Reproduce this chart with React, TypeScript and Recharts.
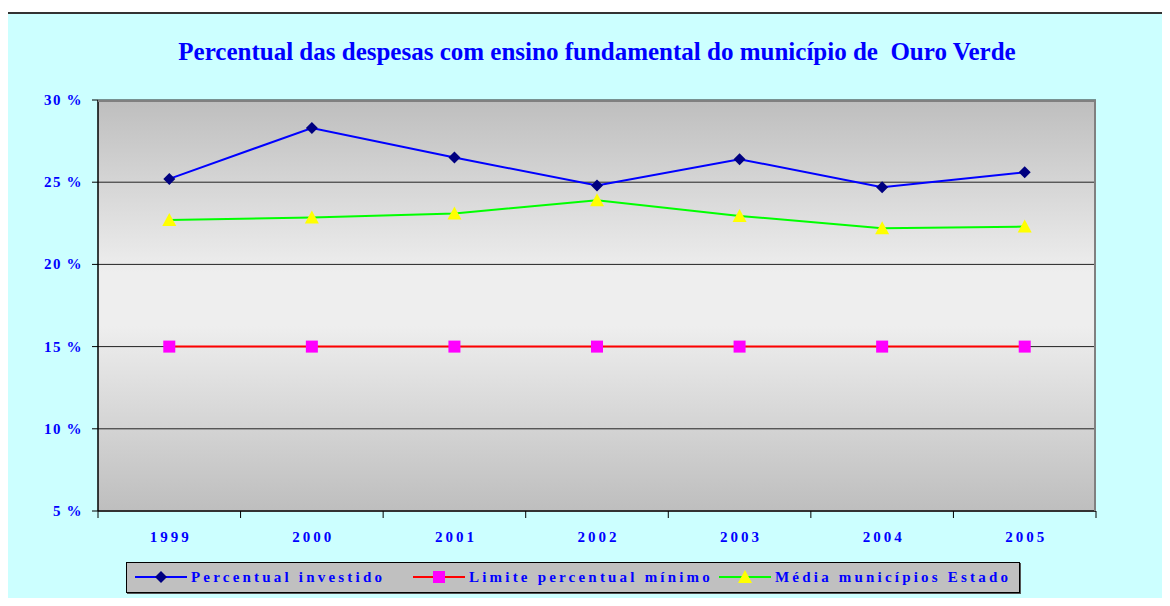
import React from "react";
import { LineChart, Line, XAxis, YAxis, CartesianGrid } from "recharts";

const years = ["1999", "2000", "2001", "2002", "2003", "2004", "2005"];
const investido = [25.2, 28.3, 26.5, 24.8, 26.4, 24.7, 25.6];
const limite = [15, 15, 15, 15, 15, 15, 15];
const mediaEstado = [22.7, 22.85, 23.1, 23.9, 22.95, 22.2, 22.3];
const yTicks = [5, 10, 15, 20, 25, 30];

const data = years.map((year, i) => ({
  year,
  investido: investido[i],
  limite: limite[i],
  media: mediaEstado[i],
}));

const W = 1170;
const H = 606;
const PLOT_LEFT = 98;
const PLOT_RIGHT = 1096;
const BAND = (PLOT_RIGHT - PLOT_LEFT) / years.length;

const FONT = '"Liberation Serif", "Times New Roman", serif';
const BLUE = "#0000FF";

const Diamond = (props: any) => {
  const { cx, cy } = props;
  if (cx == null || cy == null) return null;
  return <path d={`M${cx},${cy - 6} L${cx + 6},${cy} L${cx},${cy + 6} L${cx - 6},${cy} Z`} fill="#000080" />;
};

const Square = (props: any) => {
  const { cx, cy } = props;
  if (cx == null || cy == null) return null;
  return <rect x={cx - 6} y={cy - 6} width={12} height={12} fill="#FF00FF" />;
};

const Triangle = (props: any) => {
  const { cx, cy } = props;
  if (cx == null || cy == null) return null;
  return <path d={`M${cx},${cy - 7} L${cx + 7},${cy + 6} L${cx - 7},${cy + 6} Z`} fill="#FFFF00" />;
};

const XTick = (props: any) => {
  const { x, y, payload, index } = props;
  return (
    <g>
      <line x1={x - BAND / 2} x2={x - BAND / 2} y1={y - 8} y2={y - 1} stroke="#000" />
      {index === years.length - 1 && (
        <line x1={x + BAND / 2} x2={x + BAND / 2} y1={y - 8} y2={y - 1} stroke="#000" />
      )}
      <text
        x={x + 1.5}
        y={y + 23}
        textAnchor="middle"
        fill={BLUE}
        fontFamily={FONT}
        fontWeight="bold"
        fontSize={15}
        letterSpacing={3}
      >
        {payload.value}
      </text>
    </g>
  );
};

const YTick = (props: any) => {
  const { x, y, payload } = props;
  return (
    <text
      x={x}
      y={y + 5}
      textAnchor="end"
      fill={BLUE}
      fontFamily={FONT}
      fontWeight="bold"
      fontSize={15}
      letterSpacing={1.5}
    >
      {`${payload.value}\u2009%`}
    </text>
  );
};

const legendItems = [
  { label: "Percentual investido", color: "#0000FF", marker: "diamond", left: 8 },
  { label: "Limite percentual mínimo", color: "#FF0000", marker: "square", left: 286 },
  { label: "Média municípios Estado", color: "#00FF00", marker: "triangle", left: 592 },
];

const LegendBox = () => (
  <div
    style={{
      position: "absolute",
      left: 126,
      top: 562,
      width: 894,
      height: 31,
      background: "#C0C0C0",
      border: "1px solid #000",
      boxShadow: "1px 1px 0 #555",
      boxSizing: "border-box",
      fontFamily: FONT,
      fontWeight: "bold",
      fontSize: 15,
      color: BLUE,
      letterSpacing: 3.2,
    }}
  >
    {legendItems.map((it) => (
      <div
        key={it.label}
        style={{
          position: "absolute",
          left: it.left,
          top: 4,
          display: "flex",
          alignItems: "center",
          whiteSpace: "nowrap",
        }}
      >
        <svg width={52} height={20} style={{ marginRight: 4 }}>
          <line x1={0} x2={52} y1={10} y2={10} stroke={it.color} strokeWidth={2} />
          {it.marker === "diamond" && <path d="M26,4 L32,10 L26,16 L20,10 Z" fill="#000080" />}
          {it.marker === "square" && <rect x={20} y={4} width={12} height={12} fill="#FF00FF" />}
          {it.marker === "triangle" && <path d="M26,3 L33,16 L19,16 Z" fill="#FFFF00" />}
        </svg>
        <span>{it.label}</span>
      </div>
    ))}
  </div>
);

export default function App() {
  return (
    <div style={{ position: "relative", width: W, height: H, margin: -8, overflow: "hidden" }}>
      <div
        style={{
          position: "absolute",
          left: 6,
          top: 12,
          width: W,
          height: H,
          background: "#CCFFFF",
          border: "2px solid #333",
          boxSizing: "border-box",
        }}
      />
      <div
        style={{
          position: "absolute",
          left: 0,
          top: 38,
          width: 1194,
          textAlign: "center",
          fontFamily: FONT,
          fontWeight: "bold",
          fontSize: 25,
          color: BLUE,
          whiteSpace: "pre",
        }}
      >
        {"Percentual das despesas com ensino fundamental do município de  Ouro Verde"}
      </div>
      <div style={{ position: "absolute", left: 0, top: 0 }}>
        <LineChart
          width={W}
          height={H}
          data={data}
          margin={{ top: 100, right: W - PLOT_RIGHT, left: 0, bottom: 0 }}
        >
          <defs>
            <linearGradient id="plotBg" x1="0" y1="0" x2="0" y2="1">
              <stop offset="0%" stopColor="#BEBEBE" />
              <stop offset="42%" stopColor="#EEEEEE" />
              <stop offset="55%" stopColor="#EEEEEE" />
              <stop offset="100%" stopColor="#BEBEBE" />
            </linearGradient>
          </defs>
          <CartesianGrid
            vertical={false}
            stroke="#222"
            strokeWidth={1}
            fill="url(#plotBg)"
            fillOpacity={1}
          />
          <XAxis
            dataKey="year"
            height={95}
            padding={{ left: BAND / 2, right: BAND / 2 }}
            tickLine={false}
            axisLine={{ stroke: "#333", strokeWidth: 2 }}
            tick={<XTick />}
            interval={0}
          />
          <YAxis
            width={PLOT_LEFT}
            domain={[5, 30]}
            ticks={yTicks}
            interval={0}
            tickSize={6}
            tickMargin={9}
            tickLine={{ stroke: "#000" }}
            axisLine={{ stroke: "#000", strokeWidth: 1.5 }}
            tick={<YTick />}
          />
          <Line
            dataKey="investido"
            stroke="#0000FF"
            strokeWidth={2}
            dot={<Diamond />}
            activeDot={false}
            isAnimationActive={false}
          />
          <Line
            dataKey="limite"
            stroke="#FF0000"
            strokeWidth={2}
            dot={<Square />}
            activeDot={false}
            isAnimationActive={false}
          />
          <Line
            dataKey="media"
            stroke="#00FF00"
            strokeWidth={2}
            dot={<Triangle />}
            activeDot={false}
            isAnimationActive={false}
          />
        </LineChart>
      </div>
      <div
        style={{
          position: "absolute",
          left: PLOT_LEFT,
          top: 100,
          width: PLOT_RIGHT - PLOT_LEFT,
          height: 411,
          borderTop: "2px solid #808080",
          borderRight: "2px solid #808080",
          boxSizing: "border-box",
          pointerEvents: "none",
        }}
      />
      <LegendBox />
    </div>
  );
}
